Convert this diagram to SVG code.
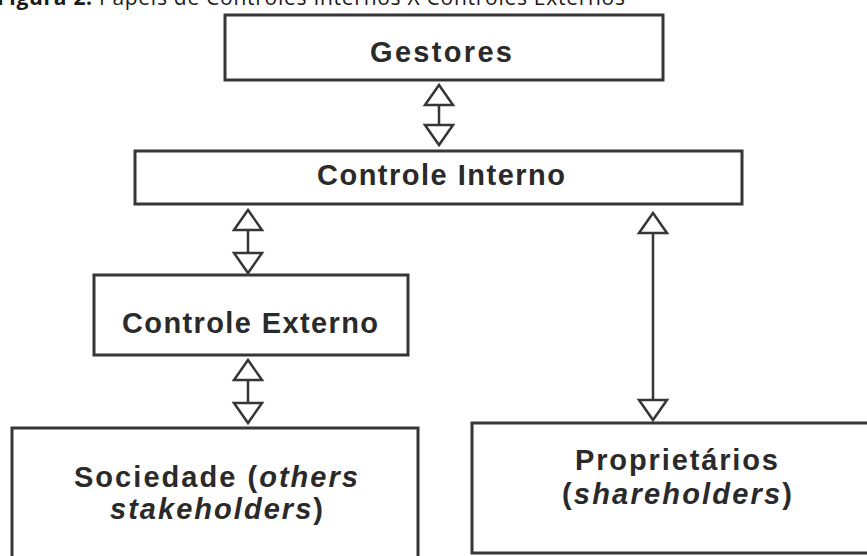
<svg xmlns="http://www.w3.org/2000/svg" width="867" height="556" viewBox="0 0 867 556">
  <style>
    .box { fill: #ffffff; stroke: #363636; stroke-width: 3; }
    .lbl { font-family: "Liberation Sans", Arial, sans-serif; font-weight: bold; font-size: 29px; fill: #2a2a2a; }
    .it { font-style: italic; }
    .cap { font-family: "Open Sans", "Liberation Sans", sans-serif; font-size: 21px; fill: #1a1a1a; }
    .conn { stroke: #363636; stroke-width: 2.5; fill: none; marker-start: url(#tri); marker-end: url(#tri); }
  </style>
  <defs>
    <marker id="tri" markerUnits="userSpaceOnUse" viewBox="-3 -17 26 34" refX="20" refY="0" markerWidth="26" markerHeight="34" orient="auto-start-reverse" overflow="visible">
      <path d="M0,-14 L20,0 L0,14 Z" fill="#ffffff" stroke="#363636" stroke-width="2.5" stroke-linejoin="miter"/>
    </marker>
  </defs>
  <rect width="867" height="556" fill="#ffffff"/>

  <text class="cap" x="-3" y="5" textLength="628" lengthAdjust="spacing"><tspan font-weight="bold">Figura 2:</tspan> Papéis de Controles Internos X Controles Externos</text>

  <g id="gestores">
    <rect class="box" x="225" y="15" width="438" height="65"/>
    <text class="lbl" x="370" y="62" textLength="142" lengthAdjust="spacing">Gestores</text>
  </g>

  <g id="controle-interno">
    <rect class="box" x="135" y="151" width="607" height="53"/>
    <text class="lbl" x="317" y="185" textLength="248" lengthAdjust="spacing">Controle Interno</text>
  </g>

  <g id="controle-externo">
    <rect class="box" x="94" y="275" width="314" height="80"/>
    <text class="lbl" x="122" y="333" textLength="256" lengthAdjust="spacing">Controle Externo</text>
  </g>

  <g id="sociedade">
    <rect class="box" x="12" y="428" width="406" height="140"/>
    <text class="lbl" x="74" y="487" textLength="284" lengthAdjust="spacing">Sociedade (<tspan class="it">others</tspan></text>
    <text class="lbl" x="110" y="519" textLength="213" lengthAdjust="spacing"><tspan class="it">stakeholders</tspan>)</text>
  </g>

  <g id="proprietarios">
    <rect class="box" x="472" y="423" width="410" height="130"/>
    <text class="lbl" x="575" y="470" textLength="203" lengthAdjust="spacing">Proprietários</text>
    <text class="lbl" x="562" y="504" textLength="230" lengthAdjust="spacing">(<tspan class="it">shareholders</tspan>)</text>
  </g>

  <g id="connectors">
    <line class="conn" x1="439" y1="85" x2="439" y2="145"/>
    <line class="conn" x1="248" y1="210" x2="248" y2="273"/>
    <line class="conn" x1="248" y1="360" x2="248" y2="423"/>
    <line class="conn" x1="653" y1="213" x2="653" y2="420"/>
  </g>
</svg>
